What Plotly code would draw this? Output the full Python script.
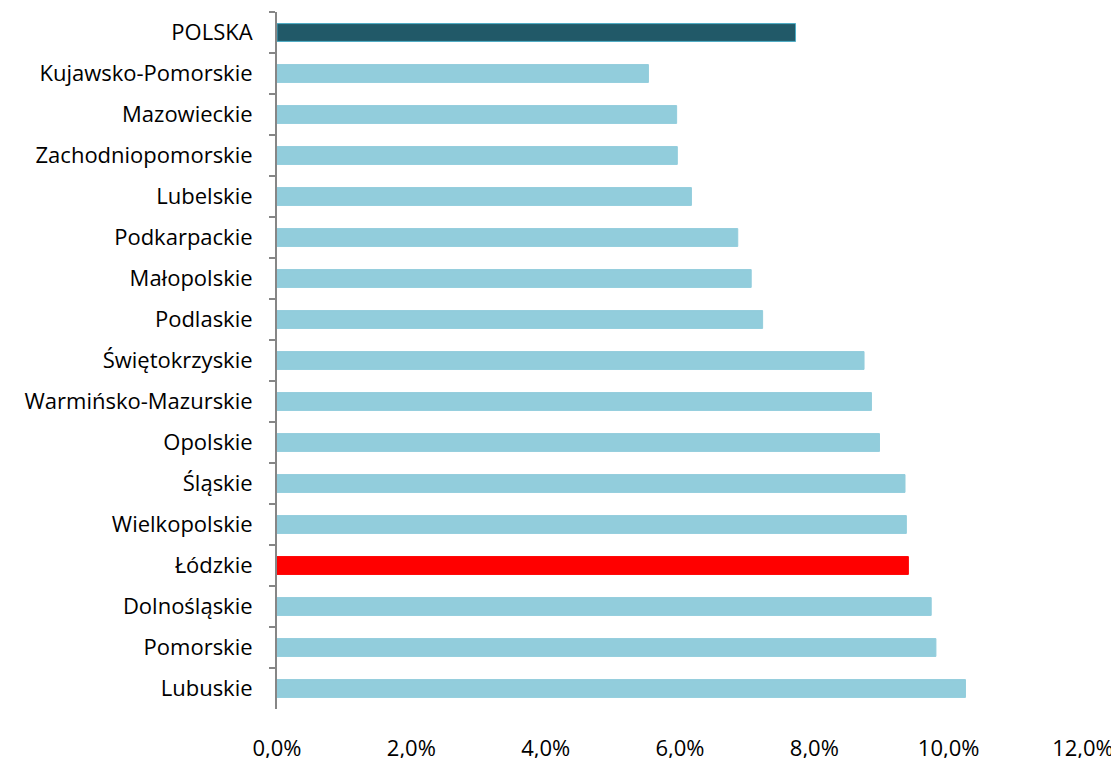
import plotly.graph_objects as go

regions = ["POLSKA", "Kujawsko-Pomorskie", "Mazowieckie", "Zachodniopomorskie", "Lubelskie",
           "Podkarpackie", "Małopolskie", "Podlaskie", "Świętokrzyskie", "Warmińsko-Mazurskie",
           "Opolskie", "Śląskie", "Wielkopolskie", "Łódzkie", "Dolnośląskie", "Pomorskie", "Lubuskie"]
values = [7.72, 5.53, 5.95, 5.96, 6.17, 6.86, 7.06, 7.23, 8.74, 8.85, 8.97, 9.35, 9.37, 9.40, 9.74, 9.81, 10.25]
tick_vals = [0, 2, 4, 6, 8, 10, 12]
tick_text = ["0,0%", "2,0%", "4,0%", "6,0%", "8,0%", "10,0%", "12,0%"]

colors = []
lines = []
for r in regions:
    if r == "POLSKA":
        colors.append("#215968"); lines.append("#4BACC6")
    elif r == "Łódzkie":
        colors.append("#FF0000"); lines.append("#FF0000")
    else:
        colors.append("#92CDDC"); lines.append("#92CDDC")

fig = go.Figure(go.Bar(
    x=values, y=regions, orientation="h",
    marker=dict(color=colors, line=dict(color=lines, width=1)),
    hoverinfo="x+y",
))

fig.update_layout(
    width=1119, height=758,
    margin=dict(l=269, r=44, t=4, b=51),
    paper_bgcolor="white", plot_bgcolor="white",
    bargap=0.565,
    showlegend=False,
    font=dict(family="Open Sans, Calibri, sans-serif", size=22, color="black"),
)
fig.update_xaxes(
    range=[0, 12], tickvals=tick_vals, ticktext=tick_text,
    showgrid=False, zeroline=False, showline=False, ticks="",
    ticklabelstandoff=24, tickfont=dict(size=22),
)
fig.update_yaxes(
    autorange="reversed", showgrid=False, zeroline=False,
    showline=True, linecolor="#868686", linewidth=2,
    ticks="outside", tickson="boundaries", ticklen=6, tickcolor="#868686", tickwidth=2,
    ticklabelstandoff=18, tickfont=dict(size=22),
)

fig.write_html("out.html")
